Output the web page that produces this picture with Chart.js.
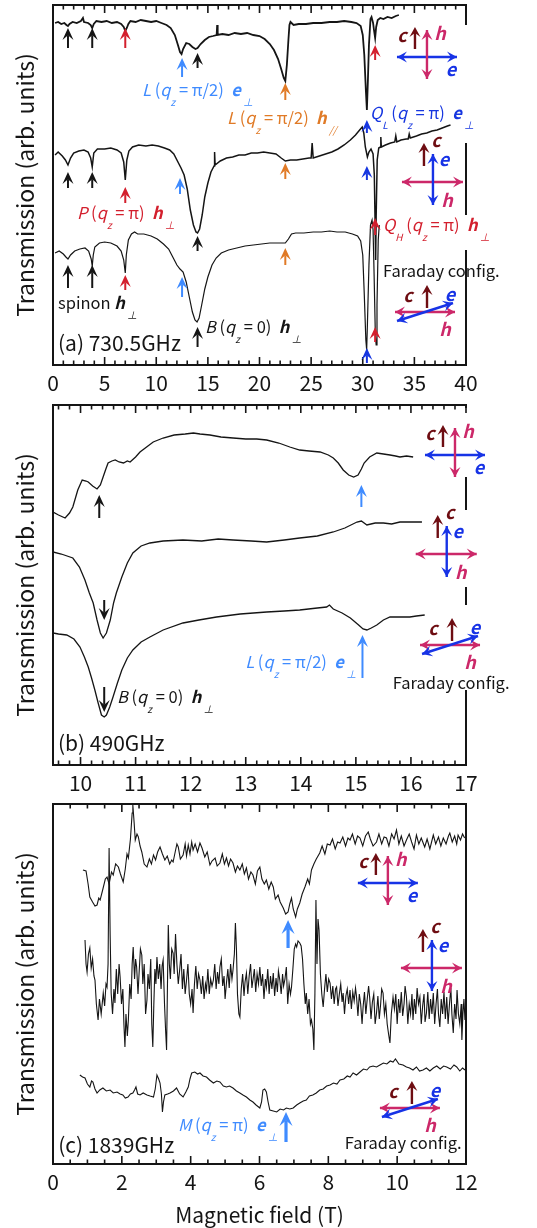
<!DOCTYPE html>
<html lang="en">
<head>
<meta charset="UTF-8">
<title>Transmission spectra</title>
<style>
  body { margin: 0; background: #fff; }
  canvas { position: absolute; left: 0; }
</style>
</head>
<body>
<canvas id="chartA" width="537" height="400" style="top:0px"></canvas>
<canvas id="chartB" width="537" height="400" style="top:400px"></canvas>
<canvas id="chartC" width="537" height="428" style="top:800px"></canvas>

<script src="https://cdn.jsdelivr.net/npm/chart.js"></script>
<script>
// ---- tick labels ----
var ticksA = [0, 5, 10, 15, 20, 25, 30, 35, 40];
var ticksB = [10, 11, 12, 13, 14, 15, 16, 17];
var ticksC = [0, 2, 4, 6, 8, 10, 12];

// ---- (a) 730.5 GHz : [field (T), transmission (arb.)] ----
var traceA1 = [[0.2,342],[0.5,343],[0.8,341],[1.1,342],[1.3,340],[1.45,339],[1.6,341],[1.9,343],[2.3,342],[2.7,344],[2.9,347],[3.0,343],[3.4,342],[3.65,340],[3.8,337],[3.95,341],[4.2,344],[4.7,343],[5.2,344],[5.7,342],[6.2,343],[6.6,341],[6.85,338],[7.0,334],[7.15,337],[7.3,341],[7.5,344],[8.0,343],[8.5,345],[9.0,344],[9.5,343],[10.0,344],[10.5,342],[11.0,340],[11.4,337],[11.8,330],[12.1,320],[12.3,313],[12.45,311],[12.6,316],[12.9,322],[13.2,321],[13.5,318],[13.8,316],[14.0,317],[14.3,321],[14.7,325],[15.1,328],[15.5,329],[15.85,330],[15.9,340],[15.95,330],[16.4,331],[17.0,330],[17.6,332],[18.2,331],[18.8,332],[19.4,330],[20.0,329],[20.5,326],[21.0,321],[21.4,315],[21.8,306],[22.1,296],[22.35,287],[22.5,284],[22.65,300],[22.8,325],[22.9,340],[23.0,343],[23.3,340],[23.8,341],[24.5,341],[25.2,342],[26.0,342],[26.8,343],[27.5,343],[28.2,344],[28.9,343],[29.4,342],[29.8,339],[30.0,330],[30.15,310],[30.3,275],[30.4,255],[30.5,285],[30.6,320],[30.75,346],[30.85,348],[31.0,342],[31.1,334],[31.2,327],[31.3,338],[31.45,345],[31.7,347],[32.0,346],[32.4,348],[32.8,347],[33.2,349],[33.5,350]];
var traceA2 = [[0.2,210],[0.5,213],[0.9,209],[1.2,205],[1.45,200],[1.7,207],[2.0,212],[2.5,214],[3.0,215],[3.4,213],[3.65,207],[3.8,198],[3.95,212],[4.3,216],[5.0,216],[5.6,217],[6.2,215],[6.6,212],[6.85,203],[7.0,185],[7.15,205],[7.35,214],[7.7,218],[8.3,220],[9.0,219],[9.6,220],[10.2,219],[10.8,217],[11.3,215],[11.7,211],[12.1,203],[12.4,197],[12.7,190],[13.0,176],[13.3,155],[13.6,140],[13.85,133],[14.0,132],[14.2,136],[14.45,150],[14.7,168],[15.0,182],[15.3,193],[15.6,199],[15.65,213],[15.7,200],[16.2,204],[16.8,207],[17.4,208],[18.0,210],[18.6,210],[19.2,212],[19.8,212],[20.4,213],[21.0,212],[21.6,211],[22.1,207],[22.5,204],[23.0,205],[23.6,205],[24.2,206],[24.8,207],[25.0,207],[25.1,222],[25.2,207],[25.8,209],[26.4,211],[27.0,213],[27.6,216],[28.2,220],[28.8,225],[29.3,230],[29.7,235],[29.95,238],[30.1,232],[30.25,218],[30.45,208],[30.6,213],[30.8,216],[31.0,211],[31.12,190],[31.2,140],[31.25,105],[31.3,150],[31.4,205],[31.55,217],[31.7,218],[31.75,228],[31.8,218],[32.2,220],[32.7,222],[33.1,223],[33.2,229],[33.3,223],[33.7,225],[34.2,226],[34.4,226],[34.5,231],[34.6,227],[35.2,229],[35.7,231],[36.2,232],[36.7,234],[37.2,235],[37.7,237],[38.2,239],[38.5,240]];
var traceA3 = [[0.2,112],[0.6,114],[1.0,111],[1.25,108],[1.45,106],[1.7,110],[2.1,114],[2.6,116],[3.1,117],[3.45,114],[3.7,106],[3.8,99],[3.9,110],[4.05,118],[4.5,122],[5.0,123],[5.6,122],[6.2,119],[6.6,114],[6.85,105],[7.0,92],[7.1,110],[7.3,125],[7.6,131],[7.9,133],[8.2,131],[8.8,131],[9.5,129],[10.1,126],[10.7,121],[11.2,116],[11.6,108],[12.0,100],[12.3,96],[12.6,93],[12.9,83],[13.2,68],[13.5,53],[13.75,45],[13.95,43],[14.15,47],[14.4,60],[14.7,76],[15.0,88],[15.4,100],[15.8,107],[16.3,112],[17.0,115],[17.8,117],[18.6,119],[19.4,120],[20.2,121],[21.0,122],[21.8,122],[22.5,122],[22.8,126],[23.1,131],[23.5,132],[24.3,132],[25.2,133],[26.0,133],[26.8,134],[27.5,133],[28.3,133],[29.0,131],[29.5,129],[29.8,124],[30.0,110],[30.15,70],[30.3,25],[30.38,15],[30.45,40],[30.6,100],[30.75,140],[30.9,145],[31.0,135],[31.1,90],[31.22,30],[31.3,20],[31.38,60],[31.5,125],[31.6,140]];

// ---- (b) 490 GHz ----
var traceB1 = [[9.5,253],[9.6,250],[9.72,247],[9.8,252],[9.86,258],[9.95,275],[10.03,285],[10.1,284],[10.14,283],[10.22,279],[10.3,276],[10.36,280],[10.41,288],[10.46,296],[10.5,302],[10.57,304],[10.63,305],[10.7,303],[10.78,302],[10.85,304],[10.9,303],[11.0,308],[11.08,313],[11.2,318],[11.32,323],[11.5,327],[11.7,330],[11.9,331],[12.05,332],[12.17,331],[12.35,330],[12.55,328],[12.77,327],[13.0,326],[13.2,326],[13.38,325],[13.6,322],[13.8,318],[13.98,315],[14.15,314],[14.35,313],[14.5,310],[14.59,307],[14.68,302],[14.77,295],[14.87,290],[14.96,288],[15.04,290],[15.1,296],[15.15,302],[15.25,308],[15.38,312],[15.5,311],[15.62,310],[15.72,309],[15.8,308],[15.92,309],[16.04,308]];
var traceB2 = [[9.5,213],[9.65,211],[9.86,207],[9.98,198],[10.08,185],[10.16,172],[10.23,162],[10.3,145],[10.36,132],[10.41,127],[10.47,132],[10.54,145],[10.6,162],[10.65,172],[10.75,188],[10.85,202],[10.95,212],[11.1,219],[11.26,222],[11.5,224],[11.86,225],[12.2,224],[12.5,226],[12.77,225],[13.1,224],[13.38,223],[13.7,225],[13.98,227],[14.3,229],[14.59,233],[14.8,237],[15.02,243],[15.1,244],[15.2,240],[15.35,242],[15.5,242],[15.65,241],[15.8,243],[16.0,243],[16.2,243]];
var traceB3 = [[9.5,132],[9.6,131],[9.75,130],[9.88,126],[9.99,118],[10.07,108],[10.14,98],[10.2,87],[10.26,75],[10.32,62],[10.38,50],[10.43,48],[10.47,50],[10.53,58],[10.59,68],[10.67,82],[10.75,95],[10.85,107],[10.95,115],[11.1,123],[11.26,128],[11.5,135],[11.86,142],[12.15,145],[12.47,148],[12.9,151],[13.38,153],[13.7,154],[13.98,155],[14.3,157],[14.47,158],[14.52,160],[14.59,156],[14.75,152],[14.9,147],[15.05,140],[15.13,136],[15.2,135],[15.28,137],[15.38,140],[15.5,145],[15.62,148],[15.8,148],[15.98,148],[16.1,149],[16.25,150]];

// ---- (c) 1839 GHz ----
var traceC1 = [[0.87,294],[0.96,293],[1.02,280],[1.07,267],[1.15,262],[1.22,258],[1.28,259],[1.33,266],[1.37,264],[1.45,275],[1.52,285],[1.57,287],[1.63,280],[1.7,292],[1.75,289],[1.82,300],[1.9,297],[1.96,290],[2.04,282],[2.1,295],[2.15,310],[2.19,306],[2.25,325],[2.3,351],[2.32,359],[2.36,340],[2.39,324],[2.44,330],[2.48,327],[2.53,318],[2.58,312],[2.65,300],[2.73,297],[2.8,305],[2.86,300],[2.92,309],[2.98,304],[3.04,312],[3.11,317],[3.18,310],[3.25,304],[3.32,308],[3.39,300],[3.45,304],[3.49,302],[3.55,312],[3.6,320],[3.64,317],[3.7,305],[3.78,309],[3.84,320],[3.88,308],[3.93,319],[3.98,310],[4.03,322],[4.07,314],[4.13,320],[4.2,312],[4.27,321],[4.33,316],[4.41,307],[4.48,312],[4.56,299],[4.62,303],[4.71,306],[4.77,298],[4.85,301],[4.92,310],[4.98,300],[5.04,306],[5.1,298],[5.16,305],[5.23,301],[5.3,292],[5.36,298],[5.43,294],[5.5,300],[5.56,290],[5.62,296],[5.68,285],[5.75,292],[5.81,289],[5.88,280],[5.94,293],[6.01,297],[6.07,285],[6.14,280],[6.2,284],[6.27,275],[6.34,282],[6.4,277],[6.46,265],[6.54,269],[6.6,262],[6.69,256],[6.76,250],[6.83,252],[6.88,260],[6.93,266],[6.98,255],[7.05,247],[7.1,255],[7.17,261],[7.24,270],[7.32,277],[7.4,285],[7.45,280],[7.51,294],[7.58,300],[7.65,305],[7.75,311],[7.82,318],[7.9,310],[7.97,320],[8.05,319],[8.12,325],[8.2,315],[8.27,322],[8.34,321],[8.42,327],[8.5,318],[8.57,326],[8.63,324],[8.7,330],[8.78,320],[8.85,328],[8.92,326],[9.0,318],[9.08,328],[9.16,332],[9.22,325],[9.3,318],[9.4,322],[9.47,330],[9.55,320],[9.62,327],[9.69,326],[9.76,318],[9.84,330],[9.91,325],[9.98,334],[10.05,320],[10.12,328],[10.2,318],[10.27,324],[10.35,330],[10.42,322],[10.49,315],[10.56,329],[10.63,320],[10.7,326],[10.8,317],[10.87,325],[10.95,315],[11.05,329],[11.12,320],[11.2,327],[11.27,318],[11.34,326],[11.42,320],[11.49,328],[11.53,331],[11.6,322],[11.67,328],[11.73,320],[11.77,329],[11.84,324],[11.9,330],[11.96,326]];
var traceC2 = [[0.93,224],[0.96,200],[0.99,192],[1.03,210],[1.07,216],[1.11,196],[1.15,205],[1.19,188],[1.22,184],[1.26,160],[1.31,144],[1.35,165],[1.4,150],[1.46,171],[1.5,158],[1.54,180],[1.57,177],[1.6,200],[1.63,316],[1.66,230],[1.69,171],[1.73,150],[1.77,175],[1.8,161],[1.84,195],[1.88,170],[1.92,200],[1.95,187],[1.99,160],[2.03,175],[2.06,140],[2.09,117],[2.12,150],[2.16,128],[2.19,144],[2.23,180],[2.27,165],[2.3,200],[2.33,217],[2.37,185],[2.4,205],[2.43,197],[2.47,170],[2.5,190],[2.54,215],[2.58,209],[2.61,180],[2.65,200],[2.69,150],[2.73,164],[2.76,190],[2.8,175],[2.84,205],[2.87,140],[2.9,117],[2.93,160],[2.96,195],[2.99,180],[3.02,207],[3.06,185],[3.1,200],[3.14,175],[3.17,198],[3.2,204],[3.24,160],[3.27,135],[3.3,114],[3.33,190],[3.35,239],[3.38,200],[3.41,185],[3.45,215],[3.49,211],[3.52,190],[3.56,230],[3.6,200],[3.64,180],[3.68,194],[3.72,210],[3.76,175],[3.8,195],[3.84,170],[3.88,184],[3.92,200],[3.96,170],[4.0,160],[4.04,175],[4.07,151],[4.11,180],[4.15,198],[4.19,175],[4.23,190],[4.27,184],[4.31,170],[4.35,188],[4.39,165],[4.43,180],[4.46,174],[4.5,195],[4.54,170],[4.58,185],[4.62,178],[4.66,184],[4.7,200],[4.74,175],[4.78,192],[4.82,180],[4.85,197],[4.89,205],[4.93,178],[4.97,188],[5.0,165],[5.04,181],[5.08,195],[5.12,176],[5.16,200],[5.2,185],[5.23,194],[5.27,210],[5.3,241],[5.33,215],[5.36,170],[5.4,150],[5.43,147],[5.47,175],[5.51,190],[5.55,168],[5.58,182],[5.62,191],[5.66,170],[5.7,188],[5.74,200],[5.78,176],[5.81,184],[5.85,195],[5.89,172],[5.93,190],[5.97,180],[6.01,197],[6.05,178],[6.09,190],[6.13,165],[6.17,185],[6.2,177],[6.24,195],[6.28,170],[6.32,188],[6.36,175],[6.4,191],[6.44,168],[6.48,186],[6.52,172],[6.55,193],[6.59,184],[6.63,170],[6.67,190],[6.7,178],[6.74,185],[6.78,197],[6.82,160],[6.86,180],[6.9,170],[6.93,177],[6.97,195],[7.01,215],[7.05,220],[7.08,217],[7.12,223],[7.17,221],[7.21,218],[7.25,205],[7.29,180],[7.33,160],[7.36,171],[7.4,150],[7.44,165],[7.48,140],[7.51,144],[7.55,135],[7.58,114],[7.61,170],[7.64,264],[7.67,200],[7.7,245],[7.73,234],[7.77,190],[7.81,170],[7.85,157],[7.89,175],[7.93,190],[7.97,172],[8.01,185],[8.05,181],[8.09,165],[8.13,178],[8.17,160],[8.21,175],[8.24,177],[8.28,158],[8.32,170],[8.36,180],[8.4,162],[8.43,171],[8.47,150],[8.51,168],[8.55,175],[8.59,160],[8.63,174],[8.67,155],[8.71,172],[8.75,163],[8.79,176],[8.82,167],[8.86,148],[8.9,170],[8.94,160],[8.98,140],[9.01,157],[9.05,172],[9.09,150],[9.13,165],[9.17,178],[9.2,167],[9.24,145],[9.28,162],[9.32,170],[9.36,140],[9.4,151],[9.44,168],[9.48,145],[9.52,160],[9.55,175],[9.59,171],[9.63,150],[9.67,160],[9.71,140],[9.75,130],[9.79,121],[9.83,150],[9.88,167],[9.92,155],[9.96,170],[10.0,140],[10.04,165],[10.08,151],[10.12,172],[10.16,148],[10.2,160],[10.23,178],[10.27,167],[10.31,140],[10.35,160],[10.39,150],[10.43,170],[10.46,144],[10.5,165],[10.54,150],[10.58,176],[10.62,160],[10.66,167],[10.7,140],[10.74,158],[10.78,170],[10.81,142],[10.85,151],[10.89,172],[10.93,145],[10.97,165],[11.01,150],[11.05,171],[11.09,140],[11.13,160],[11.17,175],[11.2,150],[11.24,137],[11.28,165],[11.32,150],[11.36,172],[11.4,145],[11.44,167],[11.48,140],[11.52,160],[11.56,176],[11.59,150],[11.63,131],[11.67,160],[11.71,145],[11.74,174],[11.78,150],[11.82,140],[11.86,160],[11.88,124],[11.91,150],[11.94,165],[11.97,144]];
var traceC3 = [[0.78,89],[0.86,87],[0.93,86],[1.0,80],[1.07,77],[1.12,83],[1.16,82],[1.22,75],[1.28,71],[1.36,74],[1.45,76],[1.55,73],[1.66,74],[1.75,71],[1.86,72],[1.95,70],[2.03,69],[2.1,66],[2.18,67],[2.25,70],[2.32,71],[2.37,74],[2.41,77],[2.46,70],[2.53,69],[2.62,71],[2.73,69],[2.82,68],[2.92,67],[2.97,75],[3.02,89],[3.07,85],[3.11,81],[3.15,70],[3.18,52],[3.21,62],[3.25,69],[3.33,70],[3.4,71],[3.5,73],[3.59,76],[3.68,70],[3.78,67],[3.86,72],[3.93,77],[3.98,85],[4.03,91],[4.12,92],[4.2,90],[4.27,91],[4.36,88],[4.46,87],[4.55,84],[4.66,81],[4.76,83],[4.85,82],[4.95,78],[5.04,77],[5.13,78],[5.23,76],[5.33,73],[5.43,71],[5.52,69],[5.62,67],[5.72,64],[5.81,62],[5.9,59],[6.01,56],[6.06,62],[6.1,74],[6.15,75],[6.2,72],[6.25,62],[6.3,54],[6.4,53],[6.5,52],[6.6,55],[6.7,54],[6.78,56],[6.88,55],[6.98,56],[7.08,59],[7.17,61],[7.27,63],[7.36,64],[7.45,68],[7.55,69],[7.65,71],[7.75,74],[7.85,75],[7.95,78],[8.05,79],[8.15,81],[8.25,80],[8.34,84],[8.45,85],[8.55,88],[8.63,87],[8.72,91],[8.82,89],[8.92,92],[9.02,95],[9.12,94],[9.2,97],[9.3,98],[9.4,97],[9.5,99],[9.6,101],[9.7,100],[9.8,103],[9.88,102],[9.95,105],[10.05,100],[10.17,99],[10.27,97],[10.36,96],[10.46,94],[10.56,97],[10.65,93],[10.75,94],[10.85,96],[10.95,93],[11.05,96],[11.15,98],[11.25,95],[11.35,98],[11.44,97],[11.55,95],[11.65,99],[11.73,97],[11.82,93],[11.9,96],[11.97,94]];

// ---- colours & fonts ----
var FONT = '"Noto Sans CJK JP", "Noto Sans", sans-serif';
var K = '#151515', LB = '#3f8bff', DB = '#1636e0', OR = '#e07a26', RD = '#d31f2d';
var E_BLUE = '#1733e6', H_PINK = '#cc2869', C_RED = '#6e0d12';

// rich text pieces: i = italic, bi = bold italic, s = subscript
function resonance(name, sub, q, pol, psub) {
  var p = [[name, 'i']];
  if (sub) p.push([sub, 's']);
  p.push([' (', 'n'], ['q', 'i'], ['z', 's'], [' = ' + q + ')  ', 'n'], [pol, 'bi'], [' ' + psub, 's']);
  return p;
}

function drawRich(ctx, x, y, parts, color, size) {
  var cx = x;
  ctx.fillStyle = color;
  ctx.textBaseline = 'middle';
  ctx.textAlign = 'left';
  parts.forEach(function (p) {
    var fs = size, dy = 0, style = '';
    if (p[1] === 'i') style = 'italic ';
    if (p[1] === 'bi') style = 'italic bold ';
    if (p[1] === 's') { fs = Math.round(size * 0.62); dy = size * 0.72; style = 'italic '; }
    ctx.font = style + fs + 'px ' + FONT;
    ctx.fillText(p[0], cx, y + dy);
    cx += ctx.measureText(p[0]).width;
  });
}

function head(ctx, x1, y1, x2, y2, color, hl, hw) {
  var a = Math.atan2(y2 - y1, x2 - x1), c = Math.cos(a), s = Math.sin(a);
  ctx.fillStyle = color;
  ctx.beginPath();
  ctx.moveTo(x2, y2);
  ctx.lineTo(x2 - hl * c + hw * s, y2 - hl * s - hw * c);
  ctx.lineTo(x2 - hl * 0.6 * c, y2 - hl * 0.6 * s);
  ctx.lineTo(x2 - hl * c - hw * s, y2 - hl * s + hw * c);
  ctx.closePath();
  ctx.fill();
}

function seg(ctx, x1, y1, x2, y2, color, lw) {
  ctx.strokeStyle = color;
  ctx.lineWidth = lw;
  ctx.beginPath();
  ctx.moveTo(x1, y1);
  ctx.lineTo(x2, y2);
  ctx.stroke();
}

function dbl(ctx, x1, y1, x2, y2, color) {
  seg(ctx, x1, y1, x2, y2, color, 2.4);
  head(ctx, x1, y1, x2, y2, color, 10, 5.5);
  head(ctx, x2, y2, x1, y1, color, 10, 5.5);
}

function single(ctx, x1, y1, x2, y2, color) {
  seg(ctx, x1, y1, x2, y2 + 4, color, 2.4);
  head(ctx, x1, y1, x2, y2, color, 10, 5.5);
}

function iconText(ctx, t, x, y, color) {
  ctx.font = 'italic bold 18px ' + FONT;
  ctx.fillStyle = color;
  ctx.textAlign = 'center';
  ctx.textBaseline = 'middle';
  ctx.fillText(t, x, y);
}

function drawIcon(ctx, cx, cy, type) {
  if (type === 'eh') {
    dbl(ctx, cx - 30, cy, cx + 30, cy, E_BLUE);
    dbl(ctx, cx, cy - 27, cx, cy + 22, H_PINK);
    single(ctx, cx - 12, cy - 8, cx - 12, cy - 30, C_RED);
    iconText(ctx, 'c', cx - 25, cy - 22, C_RED);
    iconText(ctx, 'h', cx + 13, cy - 24, H_PINK);
    iconText(ctx, 'e', cx + 24, cy + 12, E_BLUE);
  } else if (type === 'he') {
    dbl(ctx, cx - 31, cy, cx + 30, cy, H_PINK);
    dbl(ctx, cx, cy - 28, cx, cy + 23, E_BLUE);
    single(ctx, cx - 9, cy - 16, cx - 9, cy - 39, C_RED);
    iconText(ctx, 'c', cx + 3, cy - 42, C_RED);
    iconText(ctx, 'e', cx + 11, cy - 23, E_BLUE);
    iconText(ctx, 'h', cx + 14, cy + 18, H_PINK);
  } else {
    dbl(ctx, cx - 30, cy, cx + 30, cy, H_PINK);
    dbl(ctx, cx - 28, cy + 9, cx + 28, cy - 9, E_BLUE);
    single(ctx, cx + 2, cy - 4, cx + 2, cy - 27, C_RED);
    iconText(ctx, 'c', cx - 17, cy - 17, C_RED);
    iconText(ctx, 'e', cx + 25, cy - 18, E_BLUE);
    iconText(ctx, 'h', cx + 20, cy + 17, H_PINK);
  }
}

var decoPlugin = {
  id: 'deco',
  afterDraw: function (chart, args, o) {
    var ctx = chart.ctx, a = chart.chartArea, xs = chart.scales.x, ys = chart.scales.y;
    ctx.save();
    ctx.lineCap = 'butt';
    // frame: top + right (with gaps where labels sit)
    seg(ctx, a.left - 1, a.top, a.right + 1, a.top, K, 2);
    (o.rightBorder || [[0, a.bottom - a.top]]).forEach(function (s) {
      seg(ctx, a.right, a.top + s[0], a.right, a.top + s[1], K, 2);
    });
    // inward ticks top and bottom
    var k0 = Math.ceil(xs.min / o.minor - 1e-6), k1 = Math.floor(xs.max / o.minor + 1e-6);
    for (var k = k0; k <= k1; k++) {
      var v = k * o.minor;
      var r = v / o.major;
      var len = Math.abs(r - Math.round(r)) < 1e-6 ? 8 : 4.5;
      var px = xs.getPixelForValue(v);
      seg(ctx, px, a.bottom, px, a.bottom - len, K, 1.6);
      seg(ctx, px, a.top, px, a.top + len, K, 1.6);
    }
    // resonance arrows
    o.arrows.forEach(function (ar) {
      var x = xs.getPixelForValue(ar[0]), yt = ys.getPixelForValue(ar[1]), yb = ys.getPixelForValue(ar[2]);
      var thick = ar[4] === 'thick';
      var hl = thick ? 14 : 12, hw = thick ? 6.5 : 5.5;
      var dir = yb > yt ? 1 : -1;
      seg(ctx, x, yb, x, yt + dir * hl * 0.6, ar[3], thick ? 3.2 : 2);
      head(ctx, x, yb, x, yt, ar[3], hl, hw);
    });
    // labels
    o.labels.forEach(function (l) {
      drawRich(ctx, xs.getPixelForValue(l.x), ys.getPixelForValue(l.y), l.parts, l.color, l.size || 16.5);
    });
    // polarisation icons
    o.icons.forEach(function (ic) {
      drawIcon(ctx, xs.getPixelForValue(ic[0]), ys.getPixelForValue(ic[1]), ic[2]);
    });
    ctx.restore();
  }
};

function makePanel(id, p) {
  var datasets = p.traces.map(function (t) {
    return {
      data: t[0].map(function (q) { return { x: q[0], y: q[1] }; }),
      borderColor: K, borderWidth: t[1], pointRadius: 0, tension: 0, fill: false
    };
  });
  return new Chart(document.getElementById(id), {
    type: 'line',
    data: { datasets: datasets },
    options: {
      responsive: false, animation: false, devicePixelRatio: 1,
      layout: { padding: { top: p.padTop, right: 71, left: 0, bottom: 0 } },
      plugins: { legend: { display: false }, tooltip: { enabled: false }, deco: p.deco },
      scales: {
        x: {
          type: 'linear', min: p.min, max: p.max,
          afterFit: function (s) { s.height = p.xh; },
          afterBuildTicks: function (s) { s.ticks = p.ticks.map(function (v) { return { value: v }; }); },
          grid: { display: false, drawTicks: false },
          border: { display: true, color: K, width: 2 },
          ticks: { autoSkip: false, maxRotation: 0, padding: 5, color: K, font: { family: FONT, size: 21 } },
          title: p.xTitle ? { display: true, text: p.xTitle, color: K, font: { family: FONT, size: 21 }, padding: { top: 0, bottom: 0 } } : { display: false }
        },
        y: {
          min: 0, max: 360,
          afterFit: function (s) { s.width = 53; },
          grid: { display: false, drawTicks: false },
          border: { display: true, color: K, width: 2 },
          ticks: { display: false },
          title: { display: true, text: 'Transmission (arb. units)', color: K, font: { family: FONT, size: 23 }, padding: { top: 11, bottom: 0 } }
        }
      }
    },
    plugins: [decoPlugin]
  });
}

makePanel('chartA', {
  min: 0, max: 40, ticks: ticksA, padTop: 5, xh: 35,
  traces: [[traceA1, 1.8], [traceA2, 1.5], [traceA3, 1.2]],
  deco: {
    minor: 1, major: 5, rightBorder: [[0, 20], [138, 210], [245, 360]],
    arrows: [
      [1.45, 337, 317, K], [3.8, 337, 317, K], [7.0, 337, 317, RD], [12.5, 307, 288, LB], [14.0, 312, 297, K],
      [22.5, 282, 265, OR], [30.4, 245, 232, DB], [31.2, 320, 305, RD],
      [1.45, 193, 177, K], [3.8, 193, 177, K], [7.0, 178, 162, RD], [12.3, 187, 171, LB], [22.5, 202, 186, OR],
      [30.4, 199, 185, DB], [14.0, 129, 114, K], [31.2, 147, 130, RD],
      [1.45, 100, 77, K], [3.8, 100, 77, K], [7.0, 90, 75, RD], [12.5, 88, 68, LB], [22.5, 117, 100, OR],
      [14.0, 38, 18, K], [30.4, 17, 2, DB], [31.2, 38, 23, RD]
    ],
    labels: [
      { x: 8.62, y: 275, color: LB, parts: resonance('L', '', 'π/2', 'e', '⊥') },
      { x: 16.85, y: 247, color: OR, parts: resonance('L', '', 'π/2', 'h', '//') },
      { x: 30.7, y: 252, color: DB, parts: resonance('Q', 'L', 'π', 'e', '⊥') },
      { x: 2.32, y: 152, color: RD, parts: resonance('P', '', 'π', 'h', '⊥') },
      { x: 31.96, y: 140, color: RD, parts: resonance('Q', 'H', 'π', 'h', '⊥') },
      { x: 31.96, y: 94, color: K, parts: [['Faraday config.', 'n']] },
      { x: 0.48, y: 62, color: K, parts: [['spinon ', 'n'], ['h', 'bi'], [' ⊥', 's']] },
      { x: 0.48, y: 22, color: K, size: 21, parts: [['(a) 730.5GHz', 'n']] },
      { x: 14.72, y: 38, color: K, parts: resonance('B', '', '0', 'h', '⊥') }
    ],
    icons: [[36.22, 308, 'eh'], [36.8, 183, 'he'], [36.03, 53, 'far']]
  }
});

makePanel('chartB', {
  min: 9.5, max: 17, ticks: ticksB, padTop: 5, xh: 35,
  traces: [[traceB1, 1.3], [traceB2, 1.3], [traceB3, 1.3]],
  deco: {
    minor: 0.2, major: 1, rightBorder: [[0, 3], [72, 105], [182, 200], [285, 360]],
    arrows: [
      [10.34, 270, 247, K], [15.1, 280, 258, LB], [10.43, 145, 165, K], [10.43, 53, 78, K], [15.12, 130, 87, LB]
    ],
    labels: [
      { x: 12.99, y: 103, color: LB, parts: resonance('L', '', 'π/2', 'e', '⊥') },
      { x: 10.66, y: 68, color: K, parts: resonance('B', '', '0', 'h', '⊥') },
      { x: 9.59, y: 22, color: K, size: 21, parts: [['(b) 490GHz', 'n']] },
      { x: 15.67, y: 82, color: K, parts: [['Faraday config.', 'n']] }
    ],
    icons: [[16.8, 310, 'eh'], [16.65, 211, 'he'], [16.71, 120, 'far']]
  }
});

makePanel('chartC', {
  min: 0, max: 12, ticks: ticksC, padTop: 4, xh: 64, xTitle: 'Magnetic field (T)',
  traces: [[traceC1, 1.1], [traceC2, 1.1], [traceC3, 1.1]],
  deco: {
    minor: 0.5, major: 2,
    arrows: [[6.83, 244, 216, LB, 'thick'], [6.77, 52, 22, LB, 'thick']],
    labels: [
      { x: 3.63, y: 39, color: LB, parts: resonance('M', '', 'π', 'e', '⊥') },
      { x: 0.15, y: 19, color: K, size: 21, parts: [['(c) 1839GHz', 'n']] },
      { x: 8.48, y: 21, color: K, parts: [['Faraday config.', 'n']] }
    ],
    icons: [[9.73, 281, 'eh'], [11.01, 196, 'he'], [10.37, 56, 'far']]
  }
});
</script>
</body>
</html>
